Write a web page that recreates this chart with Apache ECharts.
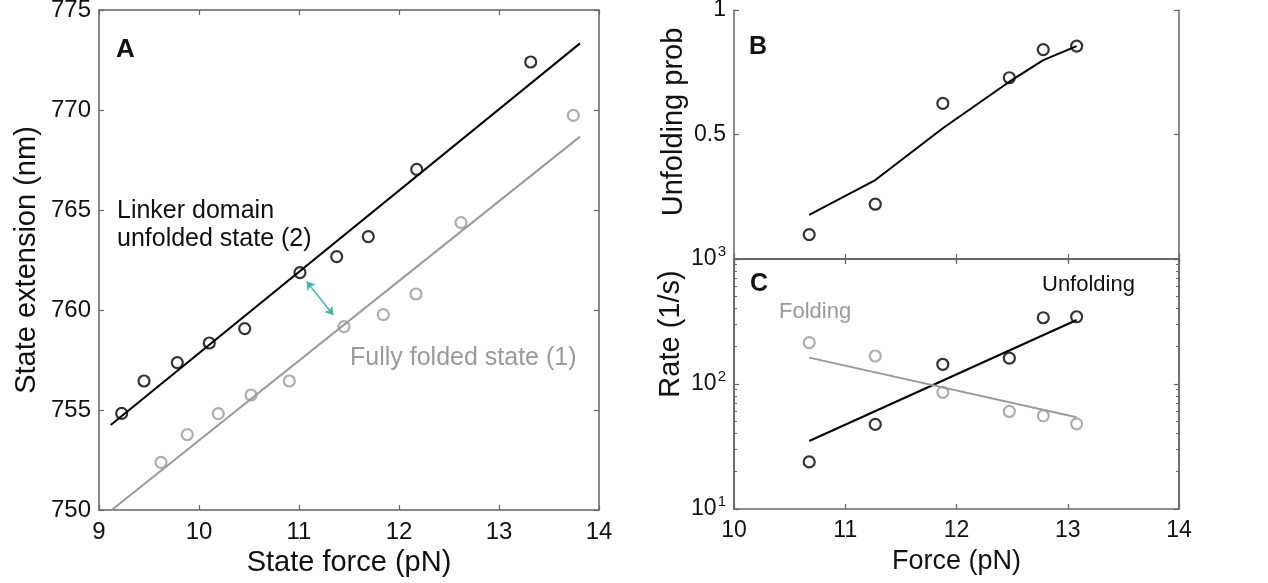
<!DOCTYPE html>
<html>
<head>
<meta charset="utf-8">
<script src="https://cdn.jsdelivr.net/npm/echarts@6/dist/echarts.min.js"></script>
<style>
  html, body { margin: 0; padding: 0; background: #fff; }
  #chart { width: 1268px; height: 583px; }
</style>
</head>
<body>
<div id="chart"></div>
<script>
// panel A: state extension vs state force
const forceUnf = [9.227, 9.45, 9.783, 10.103, 10.457, 11.01, 11.377, 11.693, 12.177, 13.317];
const extUnf = [754.83, 756.45, 757.37, 758.35, 759.07, 761.87, 762.67, 763.67, 767.03, 772.4];
const forceFold = [9.62, 9.883, 10.193, 10.52, 10.903, 11.45, 11.843, 12.17, 12.62, 13.743];
const extFold = [752.38, 753.77, 754.82, 755.75, 756.45, 759.17, 759.77, 760.8, 764.37, 769.73];
const fitUnfX = [9.117, 13.81];
const fitUnfY = [754.25, 773.33];
const fitFoldX = [9.127, 13.81];
const fitFoldY = [750.0, 768.67];
const arrowX = [11.077, 11.343];
const arrowY = [761.42, 759.75];

// panels B and C
const forceBC = [10.676, 11.27, 11.877, 12.475, 12.78, 13.08];
const probUnf = [0.098, 0.22, 0.625, 0.728, 0.841, 0.855];
const probFit = [0.177, 0.317, 0.525, 0.712, 0.799, 0.855];
const rateUnf = [23.8, 47.6, 143.8, 161, 339, 345];
const rateFold = [214, 167.5, 85.8, 60.3, 55.7, 48];
const fitRateX = [10.676, 13.08];
const fitRateUnf = [35, 325];
const fitRateFold = [162.6, 54.2];
const rateMinor = [20, 30, 40, 50, 60, 70, 80, 90, 200, 300, 400, 500, 600, 700, 800, 900];

const FONT = '"Liberation Sans", Arial, sans-serif';
const AX = '#666';
const GREY = '#9a9a9a';

const zip = (a, b) => a.map((v, i) => [v, b[i]]);

const axisLine = { show: true, lineStyle: { color: AX, width: 1.5 } };
const tickIn = { show: true, inside: true, length: 5, lineStyle: { color: AX, width: 1.2 } };
const labelStyle = size => ({ color: '#111', fontSize: size, fontFamily: FONT });
const nameStyle = size => ({ color: '#111', fontSize: size, fontFamily: FONT });

function xAx(grid, min, max, pos, labelSize, name, nameSize, gap) {
  return {
    type: 'value', gridIndex: grid, min: min, max: max, interval: 1, position: pos,
    axisLine: axisLine, axisTick: tickIn, splitLine: { show: false },
    axisLabel: labelSize ? Object.assign({ show: true, margin: 10 }, labelStyle(labelSize)) : { show: false },
    name: name || '', nameLocation: 'middle', nameGap: gap || 0, nameTextStyle: nameStyle(nameSize || 27)
  };
}

function yAx(grid, min, max, interval, pos, labelSize, name, nameSize, gap) {
  return {
    type: 'value', gridIndex: grid, min: min, max: max, interval: interval, position: pos,
    axisLine: axisLine, axisTick: tickIn, splitLine: { show: false },
    axisLabel: labelSize ? Object.assign({ show: true, margin: 8,
      formatter: v => (grid === 1 && v === 0) ? '' : String(v) }, labelStyle(labelSize)) : { show: false },
    name: name || '', nameLocation: 'middle', nameGap: gap || 0, nameTextStyle: nameStyle(nameSize || 27)
  };
}

function logAx(pos, labels, minor) {
  return {
    type: 'log', logBase: 10, gridIndex: 2, min: 10, max: 1000, position: pos,
    axisLine: axisLine, splitLine: { show: false },
    axisTick: minor
      ? { show: true, inside: true, length: 3, customValues: rateMinor, lineStyle: { color: AX, width: 1 } }
      : tickIn,
    axisLabel: labels ? {
      show: true, margin: 8,
      formatter: v => '{b|10}{s|' + Math.round(Math.log10(v)) + '}',
      rich: {
        b: { fontSize: 23, fontFamily: FONT, color: '#111' },
        s: { fontSize: 15, fontFamily: FONT, color: '#111', verticalAlign: 'top', padding: [0, 0, 14, 1] }
      }
    } : { show: false }
  };
}

function dots(xi, yi, xs, ys, color) {
  return {
    type: 'scatter', xAxisIndex: xi, yAxisIndex: yi, data: zip(xs, ys),
    symbol: 'circle', symbolSize: 11, z: 3,
    itemStyle: { color: 'transparent', borderColor: color, borderWidth: 2.2 }
  };
}

function fit(xi, yi, xs, ys, color) {
  return {
    type: 'line', xAxisIndex: xi, yAxisIndex: yi, data: zip(xs, ys),
    symbol: 'none', z: 2, lineStyle: { color: color, width: 2 }
  };
}

function txt(x, y, text, color, bold, size, rot) {
  return {
    type: 'text', x: x, y: y, rotation: rot || 0,
    style: {
      text: text, fill: color, font: (bold ? 'bold ' : '') + size + 'px ' + FONT,
      align: rot ? 'center' : 'left', verticalAlign: 'middle'
    }
  };
}

const chart = echarts.init(document.getElementById('chart'));
chart.setOption({
  animation: false,
  backgroundColor: '#fff',
  grid: [
    { left: 99, top: 10, width: 500, height: 500, outerBoundsMode: 'none' },
    { left: 734, top: 10, width: 445, height: 249, outerBoundsMode: 'none' },
    { left: 734, top: 259, width: 445, height: 250, outerBoundsMode: 'none' }
  ],
  xAxis: [
    xAx(0, 9, 14, 'bottom', 24, 'State force (pN)', 29, 34),
    xAx(0, 9, 14, 'top'),
    xAx(1, 10, 14, 'bottom'),
    xAx(1, 10, 14, 'top'),
    xAx(2, 10, 14, 'bottom', 23, 'Force (pN)', 27, 39),
    xAx(2, 10, 14, 'top')
  ],
  yAxis: [
    yAx(0, 750, 775, 5, 'left', 24, 'State extension (nm)', 29, 58),
    yAx(0, 750, 775, 5, 'right'),
    yAx(1, 0, 1, 0.5, 'left', 23),
    yAx(1, 0, 1, 0.5, 'right'),
    logAx('left', true, false),
    logAx('left', false, true),
    logAx('right', false, false),
    logAx('right', false, true)
  ],
  series: [
    fit(0, 0, fitUnfX, fitUnfY, '#000'),
    fit(0, 0, fitFoldX, fitFoldY, GREY),
    dots(0, 0, forceUnf, extUnf, '#000'),
    dots(0, 0, forceFold, extFold, GREY),
    {
      type: 'lines', coordinateSystem: 'cartesian2d', xAxisIndex: 0, yAxisIndex: 0,
      symbol: ['arrow', 'arrow'], symbolSize: 8, z: 4,
      lineStyle: { color: '#35bba8', width: 1.5, opacity: 1 },
      data: [{ coords: zip(arrowX, arrowY) }]
    },
    fit(2, 2, forceBC, probFit, '#000'),
    dots(2, 2, forceBC, probUnf, '#000'),
    fit(4, 4, fitRateX, fitRateUnf, '#000'),
    fit(4, 4, fitRateX, fitRateFold, GREY),
    dots(4, 4, forceBC, rateUnf, '#000'),
    dots(4, 4, forceBC, rateFold, GREY)
  ],
  graphic: [
    txt(116, 50, 'A', '#111', true, 26),
    txt(117, 211, 'Linker domain', '#111', false, 25),
    txt(117, 239, 'unfolded state (2)', '#111', false, 25),
    txt(350, 358, 'Fully folded state (1)', GREY, false, 25),
    txt(749, 47, 'B', '#111', true, 25),
    txt(750, 284, 'C', '#111', true, 25),
    txt(1042, 285, 'Unfolding', '#111', false, 22),
    txt(779, 312, 'Folding', GREY, false, 22),
    txt(674, 122, 'Unfolding prob', '#111', false, 29, Math.PI / 2),
    txt(671, 334, 'Rate (1/s)', '#111', false, 29, Math.PI / 2)
  ]
});
</script>
</body>
</html>
